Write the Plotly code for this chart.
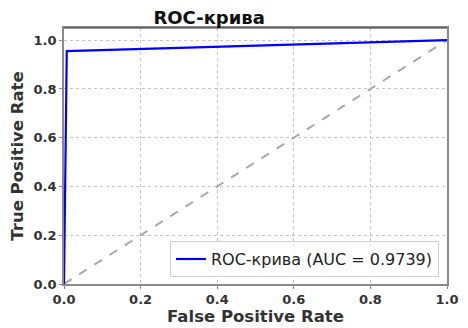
import plotly.graph_objects as go

fpr = [0.0, 0.0072, 1.0]
tpr = [0.0, 0.955, 1.0]
diag_x = [0.0, 1.0]
diag_y = [0.0, 1.0]
auc = 0.9739
tick_vals = [0.0, 0.2, 0.4, 0.6, 0.8, 1.0]
tick_text = ["0.0", "0.2", "0.4", "0.6", "0.8", "1.0"]

FONT = "DejaVu Sans"

fig = go.Figure()
fig.add_trace(go.Scatter(x=diag_x, y=diag_y, mode="lines",
                         line=dict(color="#a9a9a9", width=2, dash="dash"),
                         showlegend=False, hoverinfo="skip"))
fig.add_trace(go.Scatter(x=fpr, y=tpr, mode="lines",
                         line=dict(color="#0000ff", width=2.2),
                         name=f"ROC-крива (AUC = {auc:.4f})"))

axis_common = dict(
    tickvals=tick_vals, ticktext=tick_text,
    showgrid=True, gridcolor="#c4c4c4", griddash="dot", gridwidth=0.8,
    zeroline=False, showline=True, linecolor="#8a8a8a", linewidth=1.6,
    mirror=True, ticks="outside", ticklen=3, tickcolor="#8a8a8a",
    automargin=False,
    tickfont=dict(family=FONT, size=13, color="#333333", weight="bold"),
)

# page body has an 8px margin, so the figure is sized/offset to compensate
fig.update_layout(
    width=460, height=320,
    margin=dict(l=56, r=21, t=20, b=44),
    paper_bgcolor="white", plot_bgcolor="white",
    title=dict(text="<b>ROC-крива</b>", x=0.379, xanchor="center", xref="paper",
               y=0.988, yanchor="top", yref="container", pad=dict(t=0, b=0),
               font=dict(family=FONT, size=18, color="#111111")),
    xaxis=dict(range=[0, 1], title=dict(text="<b>False Positive Rate</b>", standoff=4,
               font=dict(family=FONT, size=16.5, color="#333333")), **axis_common),
    yaxis=dict(range=[0, 1.05], title=dict(text="<b>True Positive Rate</b>", standoff=8,
               font=dict(family=FONT, size=16.5, color="#333333")), **axis_common),
    legend=dict(x=0.979, y=0.027, xanchor="right", yanchor="bottom",
                bgcolor="rgba(255,255,255,0.85)", bordercolor="#d0d0d0", borderwidth=1,
                font=dict(family=FONT, size=16, color="#222222")),
    shapes=[dict(type="line", xref="paper", yref="paper", x0=0, x1=1, y0=1, y1=1,
                 line=dict(color="#333333", width=1.2))],
)

fig.write_html("out.html")
